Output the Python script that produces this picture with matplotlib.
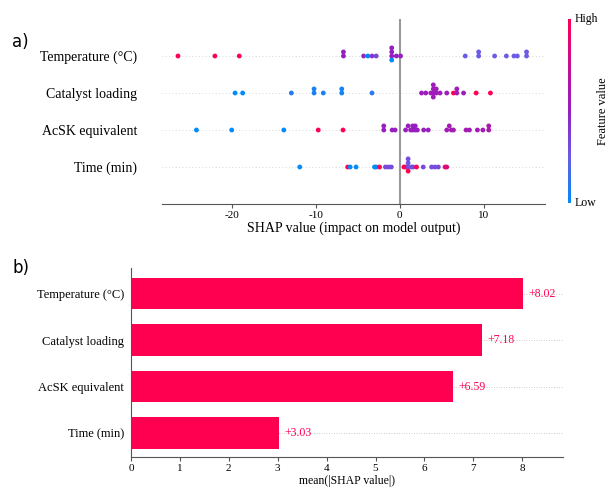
import numpy as np
import matplotlib
matplotlib.use("Agg")
import matplotlib.pyplot as plt
from matplotlib.colors import LinearSegmentedColormap

# feature names, top to bottom
features = ["Temperature (°C)", "Catalyst loading", "AcSK equivalent", "Time (min)"]

# SHAP values per sample and the matching feature value (0 = low, 1 = high)
temp_shap = [-26.4, -22.0, -19.1, -6.7, -6.7, -4.3, -3.8, -3.3, -2.8,
             -0.95, -0.95, -0.95, -0.95, -0.4, 0.1,
             7.8, 9.4, 9.4, 11.3, 12.7, 13.6, 14.0, 15.1, 15.1]
temp_feat = [1.0, 1.0, 1.0, 0.5, 0.5, 0.45, 0.02, 0.4, 0.35,
             0.5, 0.5, 0.0, 0.5, 0.5, 0.5,
             0.25, 0.25, 0.25, 0.25, 0.25, 0.25, 0.25, 0.25, 0.25]

cat_shap = [-19.6, -18.7, -12.9, -10.2, -10.2, -9.1, -6.9, -6.9, -3.3,
            2.6, 3.1, 3.7, 4.0, 4.0, 4.0, 4.0, 4.35, 4.35, 4.8,
            5.6, 6.4, 6.8, 6.8, 7.6, 9.1, 10.8]
cat_feat = [0.0, 0.0, 0.1, 0.06, 0.06, 0.06, 0.04, 0.04, 0.1,
            0.55, 0.55, 0.55, 0.55, 0.55, 0.55, 0.55, 0.55, 0.55, 0.55,
            0.55, 1.0, 0.58, 0.55, 0.55, 1.0, 1.0]

acsk_shap = [-24.2, -20.0, -13.8, -9.7, -6.75, -1.9, -1.9, -0.9, -0.55,
             0.7, 1.0, 1.3, 1.55, 1.55, 1.85, 1.85, 2.1, 2.85, 3.4,
             5.6, 5.9, 6.15, 6.4, 7.9, 8.3, 9.25, 9.9, 10.6, 10.6]
acsk_feat = [0.0, 0.0, 0.0, 1.0, 1.0, 0.52, 0.52, 0.52, 0.52,
             0.52, 0.52, 0.52, 0.52, 0.52, 0.52, 0.52, 0.52, 0.52, 0.52,
             0.58, 0.58, 0.58, 0.58, 0.58, 0.58, 0.58, 0.58, 0.62, 0.62]

time_shap = [-11.9, -6.2, -5.9, -5.2, -3.0, -2.8, -2.4, -1.7, -1.35, -1.0,
             0.5, 0.7, 1.0, 1.0, 1.0, 1.0, 1.4, 1.6, 2.0, 2.8,
             3.8, 4.2, 4.6, 5.4, 5.6]
time_feat = [0.0, 1.0, 0.0, 0.0, 0.0, 0.0, 1.0, 0.32, 0.32, 0.32,
             1.0, 1.0, 0.3, 0.28, 1.0, 0.3, 0.28, 0.32, 1.0, 0.32,
             0.32, 0.32, 0.32, 0.85, 0.85]

shap_rows = [temp_shap, cat_shap, acsk_shap, time_shap]
feat_rows = [temp_feat, cat_feat, acsk_feat, time_feat]

# mean(|SHAP value|)
mean_abs = [8.02, 7.18, 6.59, 3.03]

RED = "#ff0051"

# blue -> violet -> purple -> magenta -> red, like the shap colour scale
cmap = LinearSegmentedColormap.from_list(
    "red_blue", [(0.0, "#008bfb"), (0.25, "#6a5ce4"), (0.5, "#951fc2"),
                 (0.72, "#c0109c"), (1.0, "#ff0052")])


def swarm_offsets(xs, nbins=100):
    xs = np.asarray(xs)
    quant = np.round(nbins * (xs - xs.min()) / (xs.max() - xs.min() + 1e-8))
    inds = np.argsort(quant, kind="stable")
    ys = np.zeros(len(xs))
    layer, last = 0, -1
    for i in inds:
        if quant[i] != last:
            layer = 0
        ys[i] = np.ceil(layer / 2) * ((layer % 2) * 2 - 1)
        layer += 1
        last = quant[i]
    return ys * 0.11


plt.rcParams["font.family"] = ["Liberation Serif", "DejaVu Serif"]
plt.rcParams["axes.unicode_minus"] = False
fig = plt.figure(figsize=(6.13, 4.91), dpi=100)

# ---- a) beeswarm ----
ax = fig.add_axes([0.2643, 0.5845, 0.6248, 0.3768])
nf = len(features)
for k in range(nf):
    pos = nf - 1 - k
    ax.axhline(pos, color="#cccccc", lw=0.6, dashes=(1, 3), zorder=-1)
    xs = np.array(shap_rows[k])
    ys = pos + swarm_offsets(xs)
    ax.scatter(xs, ys, c=feat_rows[k], cmap=cmap, vmin=0, vmax=1, s=12, linewidth=0, zorder=3)
ax.axvline(0, color="#999999", lw=1.5, zorder=-1)
ax.set_xlim(-28.3, 17.3)
ax.set_ylim(-1, nf)
ax.set_yticks(range(nf))
ax.set_yticklabels(features[::-1], fontsize=10)
ax.set_xticks([-20, -10, 0, 10])
ax.tick_params(axis="y", length=0, pad=18)
ax.tick_params(axis="x", labelsize=8, length=3, width=0.8, color="#555555", pad=2)
for s in ["left", "top", "right"]:
    ax.spines[s].set_visible(False)
ax.spines["bottom"].set_color("#555555")
ax.set_xlabel("SHAP value (impact on model output)", fontsize=10, labelpad=1)

# colour bar
cax = fig.add_axes([0.9266, 0.5872, 0.0041, 0.3735])
grad = np.linspace(0, 1, 256).reshape(-1, 1)
cax.imshow(grad, aspect="auto", cmap=cmap, origin="lower", extent=[0, 1, 0, 1])
cax.set_xticks([])
cax.set_yticks([])
for s in cax.spines.values():
    s.set_visible(False)
cax.text(2.8, 1.0, "High", transform=cax.transAxes, fontsize=8.5, va="center", ha="left")
cax.text(2.8, 0.0, "Low", transform=cax.transAxes, fontsize=8.5, va="center", ha="left")
cax.text(14.0, 0.5, "Feature value", transform=cax.transAxes, fontsize=9,
         va="center", ha="center", rotation=90)

# ---- b) mean |SHAP| bar chart ----
bx = fig.add_axes([0.2137, 0.0699, 0.7052, 0.3843])
ypos = np.arange(nf)[::-1]
for y in ypos:
    bx.axhline(y, color="#bbbbbb", lw=0.6, dashes=(1, 2), zorder=-1)
bx.barh(ypos, mean_abs, height=0.67, color=RED, zorder=2)
for y, v in zip(ypos, mean_abs):
    bx.text(v + 0.1, y, "+%.2f" % v, color=RED, fontsize=8.5, va="center", ha="left", zorder=3)
bx.set_xlim(0, 8.84)
bx.set_ylim(-0.51, 3.55)
bx.set_yticks(ypos)
bx.set_yticklabels(features, fontsize=9)
bx.set_xticks(range(9))
bx.tick_params(axis="y", length=0, pad=5)
bx.tick_params(axis="x", labelsize=8, length=3, width=0.8, color="#555555", pad=2)
for s in ["top", "right"]:
    bx.spines[s].set_visible(False)
bx.spines["left"].set_color("#555555")
bx.spines["bottom"].set_color("#555555")
bx.set_xlabel("mean(|SHAP value|)", fontsize=8.5, labelpad=2)

# panel labels
fig.text(0.02, 0.915, "a)", fontsize=12, family="DejaVu Sans", va="center")
fig.text(0.02, 0.455, "b)", fontsize=12, family="DejaVu Sans", va="center")

fig.savefig("out.png", dpi=100)
